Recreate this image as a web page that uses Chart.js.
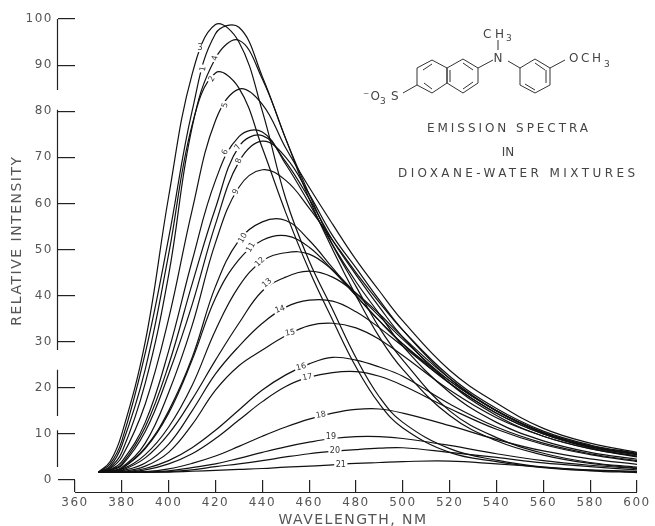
<!DOCTYPE html>
<html lang="en">
<head>
    <meta charset="UTF-8">
    <title>Emission Spectra in Dioxane-Water Mixtures</title>
    <script src="https://cdn.jsdelivr.net/npm/chart.js"></script>
    <style>
        body { margin: 0; background: #fff; }
        .wrap { position: relative; width: 655px; height: 526px; }
        canvas { position: absolute; left: 0; top: 0; }
        svg { position: absolute; left: 0; top: 0; }
        svg text { font-family: "DejaVu Sans", sans-serif; fill: #444; }
        svg line, svg polygon { stroke: #333; stroke-width: 1; fill: none; }
    </style>
</head>
<body>
    <div class="wrap">
        <canvas id="spectra" width="655" height="526"></canvas>
        <svg width="655" height="526" viewBox="0 0 655 526">
            <!-- structure of the dye -->
            <polygon points="417,68 432,60 447,68 447,83 432,93 417,85"/>
            <polygon points="447,68 463,59 478,68 478,83 463,93 447,83"/>
            <polygon points="520,68 535,59 550,68 550,85 535,93 520,85"/>
            <line x1="423" y1="70" x2="432" y2="64"/>
            <line x1="450" y1="70" x2="450" y2="82"/>
            <line x1="424" y1="83" x2="432" y2="89"/>
            <line x1="463" y1="63" x2="473" y2="70"/>
            <line x1="463" y1="89" x2="473" y2="82"/>
            <line x1="535" y1="63" x2="545" y2="70"/>
            <line x1="546" y1="70" x2="546" y2="83"/>
            <line x1="525" y1="84" x2="535" y2="90"/>
            <line x1="478" y1="68" x2="493" y2="60"/>
            <line x1="508" y1="61" x2="520" y2="68"/>
            <line x1="498" y1="40" x2="498" y2="50"/>
            <line x1="550" y1="68" x2="565" y2="60"/>
            <line x1="417" y1="85" x2="403" y2="93"/>
            <text x="498" y="62" font-size="12" text-anchor="middle">N</text>
            <text x="483" y="38" font-size="12" textLength="21">CH</text>
            <text x="506" y="41" font-size="9">3</text>
            <text x="569" y="62" font-size="12" textLength="32">OCH</text>
            <text x="604" y="67" font-size="9">3</text>
            <text x="363" y="100" font-size="12" textLength="17">&#8315;O</text>
            <text x="380" y="104" font-size="9">3</text>
            <text x="391" y="100" font-size="12">S</text>
            <!-- caption -->
            <text x="427" y="132" font-size="12" textLength="161">EMISSION SPECTRA</text>
            <text x="508" y="156" font-size="12" text-anchor="middle">IN</text>
            <text x="398" y="177" font-size="12" textLength="237">DIOXANE-WATER MIXTURES</text>
        </svg>
    </div>

    <script>
        // Relative intensity at each wavelength
        const wavelengths = [370, 375, 380, 390, 400, 410, 420, 430, 440, 450, 460, 470, 480, 490, 500, 520, 540, 560, 580, 600];
        const curve1 = [1.7, 3.5, 8.5, 27.5, 52.5, 80, 96.8, 98.2, 87.5, 74, 62, 51, 42, 33, 26, 15, 9.2, 5.8, 3.8, 2.8];
        const curve2 = [1.7, 3, 7.5, 24, 49, 77, 88.3, 85, 72, 58, 45.5, 34.7, 24.5, 16.5, 11.3, 6, 4, 2.7, 2, 1.6];
        const curve3 = [1.7, 4, 10, 30, 61.5, 88, 98.8, 95, 80, 61, 47.5, 37, 26.5, 18, 12.5, 6.8, 4.3, 2.8, 2.1, 1.8];
        const curve4 = [1.7, 2.7, 6, 21, 44.5, 76.5, 91.5, 95.4, 87, 74, 61, 50, 40, 31, 24, 14, 8.5, 5.4, 3.6, 2.6];
        const curve5 = [1.7, 2.5, 5, 16.5, 35, 58.5, 78, 84.8, 81.5, 72, 63.5, 55.5, 47.8, 41, 34.5, 23.8, 16.7, 11.2, 8, 6];
        const curve6 = [1.7, 2.3, 4, 12.5, 28, 47.5, 65, 74.5, 75.5, 68.5, 60, 51, 43, 36, 29, 19, 12.5, 8.5, 6, 4.5];
        const curve7 = [1.7, 2.2, 3.5, 11.5, 25, 42.5, 59, 72.3, 74.7, 69, 61, 52, 44.5, 37.5, 31, 21, 14, 9.5, 6.8, 5.2];
        const curve8 = [1.7, 2.1, 3.2, 10.5, 23, 38, 55.5, 69, 73.5, 70, 62, 53, 46, 39, 32.5, 22, 15, 10.3, 7.4, 5.6];
        const curve9 = [1.7, 2, 2.7, 8, 19, 33.5, 51.5, 63.5, 67.3, 65, 59, 52, 45, 38.5, 32.5, 22.5, 15.5, 10.6, 7.6, 5.8];
        const curve10 = [1.7, 1.9, 2.5, 7, 15, 26.5, 42, 52, 56, 56.3, 52, 46, 40, 34.5, 29.5, 21, 14.5, 10, 7.2, 5.5];
        const curve11 = [1.7, 1.9, 2.5, 6.8, 14.5, 26, 39.5, 47.8, 52, 53, 50.5, 45.5, 40, 34.5, 29.5, 21.5, 15, 10.3, 7.4, 5.7];
        const curve12 = [1.7, 1.8, 2.3, 5.5, 11.5, 20.5, 32.5, 42, 47.5, 49.3, 49, 45.5, 40.5, 35.5, 30.5, 21.5, 15, 10.3, 7.3, 5.6];
        const curve13 = [1.7, 1.8, 2.1, 4.8, 10, 17.5, 26, 34, 41, 44, 45.3, 44, 40.5, 36, 31, 22, 15, 10.2, 7.2, 5.5];
        const curve14 = [1.7, 1.8, 2, 3.7, 7.8, 15, 23, 29, 34, 37.5, 39, 38.8, 36.5, 33, 29, 21, 14.5, 10, 7, 5.2];
        const curve15 = [1.7, 1.7, 1.8, 3, 6, 12, 19.5, 24.8, 28.2, 31.3, 33.5, 34, 33, 30.5, 27, 19.5, 13.5, 9.5, 6.8, 5];
        const curve16 = [1.7, 1.7, 1.7, 2.5, 4.2, 7, 10.8, 15.2, 19.5, 22.8, 25.2, 26.6, 26, 24.5, 22.5, 16.5, 11.5, 8, 5.7, 4.2];
        const curve17 = [1.7, 1.7, 1.7, 2.2, 3.5, 5.7, 9, 13, 17, 20.3, 22.3, 23.3, 23.5, 22.5, 20.5, 15.5, 11, 7.7, 5.5, 4];
        const curve18 = [1.7, 1.7, 1.7, 1.8, 2.4, 3.6, 5.2, 7.3, 9.5, 11.5, 13.2, 14.5, 15.3, 15.4, 14.5, 11.8, 8.8, 6.3, 4.6, 3.4];
        const curve19 = [1.7, 1.7, 1.7, 1.7, 2, 2.7, 3.5, 4.7, 6, 7.2, 8.2, 9, 9.4, 9.4, 9, 7.5, 5.7, 4.2, 3.2, 2.5];
        const curve20 = [1.7, 1.7, 1.7, 1.7, 1.8, 2.2, 2.9, 3.5, 4.2, 5, 5.7, 6.2, 6.6, 6.9, 7, 6, 4.9, 3.7, 2.9, 2.2];
        const curve21 = [1.7, 1.7, 1.7, 1.7, 1.7, 1.9, 2.1, 2.3, 2.5, 2.8, 3, 3.3, 3.6, 3.8, 4, 4.1, 3.5, 2.8, 2.2, 1.9];
        const curves = [curve1, curve2, curve3, curve4, curve5, curve6, curve7, curve8, curve9, curve10, curve11,
            curve12, curve13, curve14, curve15, curve16, curve17, curve18, curve19, curve20, curve21];

        // Where each curve number sits on its curve, and how it is turned
        const labelWavelengths = [414.7, 418.5, 413.4, 419.8, 424.1, 424.1, 429.6, 430, 428.7, 431.7, 435.1, 439, 442, 447.6, 451.9, 456.6, 459.2, 465, 469.3, 471, 473.5];
        const labelIntensities = [89.2, 87, 93.7, 91.5, 81.3, 71.1, 72.2, 69.2, 62.5, 52.5, 50.5, 47.3, 42.7, 37, 31.9, 24.5, 22.3, 14.1, 9.3, 6.3, 3.3];
        const labelAngles = [-80, -60, 0, -75, -75, -70, -60, -70, -65, -60, -60, -45, -40, -20, -10, -15, -10, -10, 0, 0, 0];

        const xTicks = [360, 380, 400, 420, 440, 460, 480, 500, 520, 540, 560, 580, 600];
        const yTicks = [0, 10, 20, 30, 40, 50, 60, 70, 80, 90, 100];
        // The printed y axis line is broken in places, these are the parts that show
        const yAxisRuns = [[100, 84.6], [80.3, 28.2], [23.9, 13.9], [10.8, 2.8]];

        // The two axis lines stand away from the ticks' inner ends, and the text is widely spaced
        const paperAxes = {
            id: 'paperAxes',
            beforeDraw(chart) {
                chart.ctx.letterSpacing = '1.5px';
            },
            afterDraw(chart) {
                const { ctx, scales } = chart;
                ctx.save();
                ctx.strokeStyle = '#222';
                ctx.lineWidth = 1.2;
                ctx.beginPath();
                yAxisRuns.forEach(([from, to]) => {
                    ctx.moveTo(57.5, scales.y.getPixelForValue(from));
                    ctx.lineTo(57.5, scales.y.getPixelForValue(to));
                });
                ctx.moveTo(scales.x.getPixelForValue(360), 492.5);
                ctx.lineTo(scales.x.getPixelForValue(600), 492.5);
                ctx.stroke();
                ctx.restore();
            }
        };

        // Curve numbers, each on a white patch that breaks its line
        const curveNumbers = {
            id: 'curveNumbers',
            afterDatasetsDraw(chart) {
                const { ctx, scales } = chart;
                ctx.save();
                ctx.letterSpacing = '0px';
                ctx.font = '8px "DejaVu Sans"';
                ctx.textAlign = 'center';
                ctx.textBaseline = 'middle';
                labelWavelengths.forEach((w, i) => {
                    const text = String(i + 1);
                    const width = ctx.measureText(text).width + 3;
                    ctx.save();
                    ctx.translate(scales.x.getPixelForValue(w), scales.y.getPixelForValue(labelIntensities[i]));
                    ctx.rotate(labelAngles[i] * Math.PI / 180);
                    ctx.fillStyle = '#fff';
                    ctx.fillRect(-width / 2, -4, width, 8);
                    ctx.fillStyle = '#333';
                    ctx.fillText(text, 0, 0);
                    ctx.restore();
                });
                ctx.restore();
            }
        };

        new Chart(document.getElementById('spectra'), {
            type: 'line',
            data: {
                datasets: curves.map((c, i) => ({
                    label: String(i + 1),
                    data: wavelengths.map((w, j) => ({ x: w, y: c[j] })),
                    borderColor: '#111',
                    borderWidth: 1.2,
                    pointRadius: 0,
                    tension: 0.4
                }))
            },
            options: {
                responsive: false,
                animation: false,
                layout: { padding: { top: 19, right: 18 } },
                plugins: { legend: { display: false }, tooltip: { enabled: false } },
                scales: {
                    x: {
                        type: 'linear',
                        min: 360,
                        max: 600,
                        afterFit: s => { s.height = 46; },
                        afterBuildTicks: s => { s.ticks = xTicks.map(value => ({ value })); },
                        border: { display: false },
                        grid: { drawOnChartArea: false, tickLength: 12, tickColor: '#222', lineWidth: 1.2 },
                        ticks: { color: '#555', padding: 4, maxRotation: 0, autoSkip: false, font: { family: '"DejaVu Sans"', size: 12 } },
                        title: { display: true, text: 'WAVELENGTH, NM ', color: '#555', padding: { top: 0, bottom: -3 }, font: { family: '"DejaVu Sans"', size: 14 } }
                    },
                    y: {
                        min: 0,
                        max: 100,
                        afterFit: s => { s.width = 75; },
                        afterBuildTicks: s => { s.ticks = yTicks.map(value => ({ value })); },
                        border: { display: false },
                        grid: { drawOnChartArea: false, tickLength: 17, tickColor: '#222', lineWidth: 1.2 },
                        ticks: { color: '#555', padding: 5, autoSkip: false, font: { family: '"DejaVu Sans"', size: 12 } },
                        title: { display: true, text: '   RELATIVE INTENSITY', color: '#555', padding: { top: 9, bottom: 0 }, font: { family: '"DejaVu Sans"', size: 14 } }
                    }
                }
            },
            plugins: [paperAxes, curveNumbers]
        });
    </script>
</body>
</html>
